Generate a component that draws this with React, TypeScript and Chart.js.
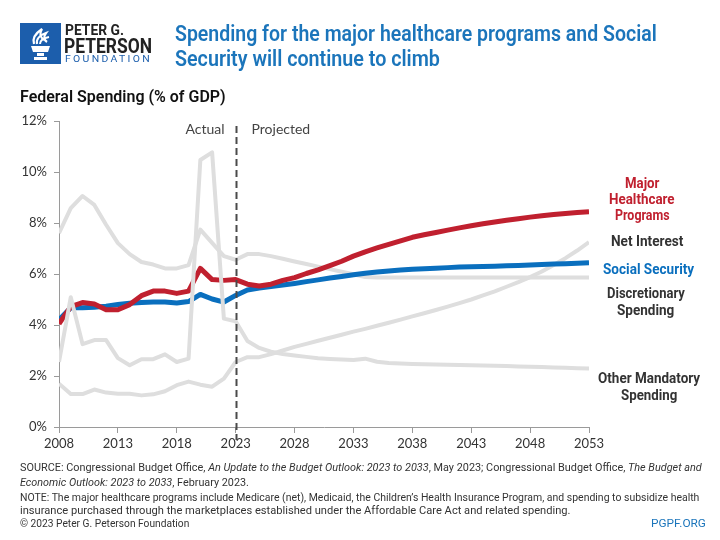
import React, { useEffect, useLayoutEffect, useRef } from "react";
import { Chart, registerables } from "chart.js";

Chart.register(...registerables);

const years = [
  2008, 2009, 2010, 2011, 2012, 2013, 2014, 2015, 2016, 2017,
  2018, 2019, 2020, 2021, 2022, 2023, 2024, 2025, 2026, 2027,
  2028, 2029, 2030, 2031, 2032, 2033, 2034, 2035, 2036, 2037,
  2038, 2039, 2040, 2041, 2042, 2043, 2044, 2045, 2046, 2047,
  2048, 2049, 2050, 2051, 2052, 2053,
];

const healthcare = [
  4.05, 4.72, 4.88, 4.82, 4.6, 4.6, 4.8, 5.15, 5.33, 5.33,
  5.24, 5.33, 6.22, 5.78, 5.75, 5.78, 5.6, 5.53, 5.6, 5.75,
  5.86, 6.02, 6.16, 6.33, 6.5, 6.7, 6.87, 7.02, 7.16, 7.3,
  7.44, 7.54, 7.63, 7.72, 7.81, 7.89, 7.97, 8.04, 8.11, 8.17,
  8.23, 8.28, 8.33, 8.37, 8.41, 8.44,
];

const socialSecurity = [
  4.2, 4.68, 4.68, 4.7, 4.74, 4.8, 4.85, 4.88, 4.9, 4.9,
  4.86, 4.92, 5.2, 5.02, 4.9, 5.16, 5.37, 5.45, 5.51, 5.57,
  5.63, 5.7, 5.77, 5.84, 5.9, 5.97, 6.03, 6.08, 6.12, 6.16,
  6.19, 6.21, 6.23, 6.25, 6.27, 6.28, 6.29, 6.3, 6.32, 6.33,
  6.35, 6.37, 6.39, 6.4, 6.42, 6.44,
];

const netInterest = [
  1.7, 1.29, 1.29, 1.47, 1.35, 1.3, 1.3, 1.24, 1.28, 1.4,
  1.64, 1.78, 1.66, 1.58, 1.9, 2.55, 2.74, 2.74, 2.86, 3.0,
  3.14, 3.26, 3.38, 3.5, 3.62, 3.74, 3.85, 3.97, 4.09, 4.21,
  4.34, 4.46, 4.59, 4.72, 4.86, 5.0, 5.16, 5.32, 5.5, 5.68,
  5.88, 6.1, 6.35, 6.62, 6.92, 7.25,
];

const discretionary = [
  7.6, 8.58, 9.06, 8.71, 7.93, 7.21, 6.78, 6.47, 6.37, 6.22,
  6.22, 6.35, 7.74, 7.22, 6.7, 6.56, 6.78, 6.78, 6.7, 6.6,
  6.49, 6.39, 6.29, 6.19, 6.09, 5.99, 5.88, 5.86, 5.86, 5.86,
  5.86, 5.86, 5.86, 5.86, 5.86, 5.86, 5.86, 5.86, 5.86, 5.86,
  5.86, 5.86, 5.86, 5.86, 5.86, 5.86,
];

const otherMandatory = [
  2.55, 5.09, 3.25, 3.41, 3.41, 2.7, 2.42, 2.66, 2.66, 2.85,
  2.55, 2.68, 10.47, 10.77, 4.25, 4.15, 3.37, 3.1, 2.95, 2.86,
  2.8, 2.75, 2.7, 2.67, 2.65, 2.63, 2.68, 2.56, 2.51, 2.49,
  2.47, 2.46, 2.45, 2.44, 2.43, 2.42, 2.41, 2.4, 2.39, 2.37,
  2.36, 2.35, 2.33, 2.32, 2.3, 2.29,
];

const xTickYears = [2008, 2013, 2018, 2023, 2028, 2033, 2038, 2043, 2048, 2053];
const yTickValues = [0, 2, 4, 6, 8, 10, 12];
const projectionStart = 2023;

const RED = "#C0202F";
const BLUE = "#0A6FBE";
const TITLE_BLUE = "#1B75BB";
const GRAY = "#DEDEDE";
const COND = "'Roboto', 'Liberation Sans', sans-serif";
const BODY = "'Lato', 'Open Sans', sans-serif";

const toPoints = (vals: number[]) => vals.map((v, i) => ({ x: years[i], y: v }));

const overlayPlugin = {
  id: "overlay",
  afterDatasetsDraw(chart: any) {
    const { ctx, chartArea, scales } = chart;
    const px = Math.round(scales.x.getPixelForValue(projectionStart)) + 0.5;
    ctx.save();
    ctx.strokeStyle = "#4a4a4a";
    ctx.lineWidth = 2;
    ctx.setLineDash([7, 4]);
    ctx.beginPath();
    ctx.moveTo(px, chartArea.top + 5);
    ctx.lineTo(px, chartArea.bottom + 13);
    ctx.stroke();
    ctx.setLineDash([]);
    ctx.font = `14px ${BODY}`;
    ctx.fillStyle = "#444";
    ctx.textBaseline = "middle";
    ctx.textAlign = "right";
    ctx.fillText("Actual", px - 12, chartArea.top + 8);
    ctx.textAlign = "left";
    ctx.fillText("Projected", px + 15, chartArea.top + 8);
    ctx.restore();
  },
};

type FitProps = {
  x: number;
  cy: number;
  w: number;
  size: number;
  weight?: number;
  color?: string;
  family?: string;
  spacing?: number;
  children: React.ReactNode;
};

// Text line squeezed horizontally to the reference's width (condensed look).
function Fit({ x, cy, w, size, weight = 400, color = "#333", family = COND, spacing = 0, children }: FitProps) {
  const ref = useRef<HTMLSpanElement | null>(null);
  useLayoutEffect(() => {
    const el = ref.current;
    if (!el) return;
    el.style.transform = "none";
    const natural = el.offsetWidth;
    if (natural > 0) el.style.transform = `scaleX(${w / natural})`;
  });
  const lh = Math.round(size * 1.2);
  return (
    <span
      ref={ref}
      style={{
        position: "absolute",
        left: x,
        top: cy - lh / 2,
        display: "inline-block",
        transformOrigin: "0 50%",
        fontFamily: family,
        fontSize: size,
        fontWeight: weight,
        lineHeight: `${lh}px`,
        letterSpacing: spacing,
        color,
        whiteSpace: "nowrap",
      }}
    >
      {children}
    </span>
  );
}

function Logo() {
  return (
    <svg width="41" height="41" viewBox="0 0 41 41" style={{ position: "absolute", left: 20, top: 23 }}>
      <rect x="0" y="0" width="41" height="41" fill="#1C5EAC" />
      <path d="M14 21 C12 15 16 10 22 6 C19 11 20 14 24 17" fill="none" stroke="#fff" strokeWidth="2.2" />
      <path d="M17 21 C16 16 20 12 26 10 C23 14 24 17 27 19" fill="none" stroke="#fff" strokeWidth="2.2" />
      <path d="M20 21 C20 17 24 15 29 14" fill="none" stroke="#fff" strokeWidth="2" />
      <path d="M11 23 L30 23 L28 29 L13 29 Z" fill="#fff" />
      <rect x="17" y="30" width="7" height="3" fill="#fff" />
      <rect x="14" y="34" width="13" height="3" fill="#fff" />
    </svg>
  );
}

export default function App() {
  const canvasRef = useRef<HTMLCanvasElement | null>(null);

  useEffect(() => {
    const canvas = canvasRef.current;
    if (!canvas) return;
    const lineBase = {
      pointRadius: 0,
      pointHoverRadius: 0,
      tension: 0,
      borderJoinStyle: "round" as const,
      fill: false,
    };
    const chart = new Chart(canvas, {
      type: "line",
      data: {
        datasets: [
          { ...lineBase, label: "Other Mandatory Spending", data: toPoints(otherMandatory), borderColor: GRAY, borderWidth: 4, order: 0 },
          { ...lineBase, label: "Major Healthcare Programs", data: toPoints(healthcare), borderColor: RED, borderWidth: 5, order: 1 },
          { ...lineBase, label: "Social Security", data: toPoints(socialSecurity), borderColor: BLUE, borderWidth: 5, order: 2 },
          { ...lineBase, label: "Discretionary Spending", data: toPoints(discretionary), borderColor: GRAY, borderWidth: 4, order: 3 },
          { ...lineBase, label: "Net Interest", data: toPoints(netInterest), borderColor: GRAY, borderWidth: 4, order: 4 },
        ],
      },
      options: {
        responsive: false,
        animation: false,
        devicePixelRatio: 1,
        layout: { padding: { top: 121, right: 131, bottom: 0, left: 0 } },
        plugins: { legend: { display: false }, tooltip: { enabled: false } },
        scales: {
          x: {
            type: "linear",
            min: 2008,
            max: 2053,
            afterBuildTicks: (s: any) => {
              s.ticks = xTickYears.map((v) => ({ value: v }));
            },
            afterFit: (s: any) => {
              s.height = 113;
            },
            ticks: {
              autoSkip: false,
              maxRotation: 0,
              padding: 3,
              color: "#333",
              font: { family: BODY, size: 13 },
              callback: (v: any) => String(v),
            },
            grid: { drawOnChartArea: false, tickLength: 6, color: "#9a9a9a" },
            border: { color: "#9a9a9a" },
          },
          y: {
            min: 0,
            max: 12,
            afterBuildTicks: (s: any) => {
              s.ticks = yTickValues.map((v) => ({ value: v }));
            },
            afterFit: (s: any) => {
              s.width = 59;
            },
            ticks: {
              padding: 7,
              color: "#333",
              font: { family: BODY, size: 13 },
              callback: (v: any) => `${v}%`,
            },
            grid: { drawOnChartArea: false, tickLength: 5, color: "#9a9a9a" },
            border: { color: "#9a9a9a" },
          },
        },
      },
      plugins: [overlayPlugin],
    });
    return () => chart.destroy();
  }, []);

  return (
    <div style={{ position: "fixed", left: 0, top: 0, width: 720, height: 540, background: "#fff", overflow: "hidden" }}>
      <canvas ref={canvasRef} width={720} height={540} style={{ position: "absolute", left: 0, top: 0, width: 720, height: 540 }} />

      <Logo />
      <Fit x={65} cy={30} w={59} size={15} weight={700} color="#222">PETER G.</Fit>
      <Fit x={64} cy={45.5} w={88} size={20} weight={700} color="#222">PETERSON</Fit>
      <Fit x={65} cy={59} w={87} size={9} weight={400} color="#1C5EAC" spacing={2}>FOUNDATION</Fit>

      <Fit x={175} cy={33.5} w={482} size={22} weight={600} color={TITLE_BLUE}>
        Spending for the major healthcare programs and Social
      </Fit>
      <Fit x={175} cy={58.5} w={265} size={22} weight={600} color={TITLE_BLUE}>
        Security will continue to climb
      </Fit>
      <Fit x={20} cy={96} w={206} size={17} weight={600} color="#111">Federal Spending (% of GDP)</Fit>

      <Fit x={625} cy={183} w={34} size={14} weight={700} color={RED}>Major</Fit>
      <Fit x={609} cy={199} w={66} size={14} weight={700} color={RED}>Healthcare</Fit>
      <Fit x={615} cy={215} w={55} size={14} weight={700} color={RED}>Programs</Fit>
      <Fit x={611} cy={241} w={72} size={14} weight={700} color="#333">Net Interest</Fit>
      <Fit x={603} cy={269} w={91} size={14} weight={700} color={BLUE}>Social Security</Fit>
      <Fit x={607} cy={293} w={78} size={14} weight={700} color="#333">Discretionary</Fit>
      <Fit x={617} cy={310} w={57} size={14} weight={700} color="#333">Spending</Fit>
      <Fit x={598} cy={378} w={102} size={14} weight={700} color="#333">Other Mandatory</Fit>
      <Fit x={621} cy={395} w={56} size={14} weight={700} color="#333">Spending</Fit>

      <Fit x={20} cy={467} w={682} size={11} color="#333">
        SOURCE: Congressional Budget Office, <i>An Update to the Budget Outlook: 2023 to 2033</i>, May 2023; Congressional Budget Office, <i>The Budget and</i>
      </Fit>
      <Fit x={20} cy={482} w={229} size={11} color="#333">
        <i>Economic Outlook: 2023 to 2033</i>, February 2023.
      </Fit>
      <Fit x={20} cy={497} w={679} size={11} color="#333">
        NOTE: The major healthcare programs include Medicare (net), Medicaid, the Children’s Health Insurance Program, and spending to subsidize health
      </Fit>
      <Fit x={20} cy={510} w={551} size={11} color="#333">
        insurance purchased through the marketplaces established under the Affordable Care Act and related spending.
      </Fit>
      <Fit x={20} cy={523} w={169} size={11} color="#333">© 2023 Peter G. Peterson Foundation</Fit>
      <Fit x={651} cy={523} w={55} size={11} color={TITLE_BLUE}>PGPF.ORG</Fit>
    </div>
  );
}
